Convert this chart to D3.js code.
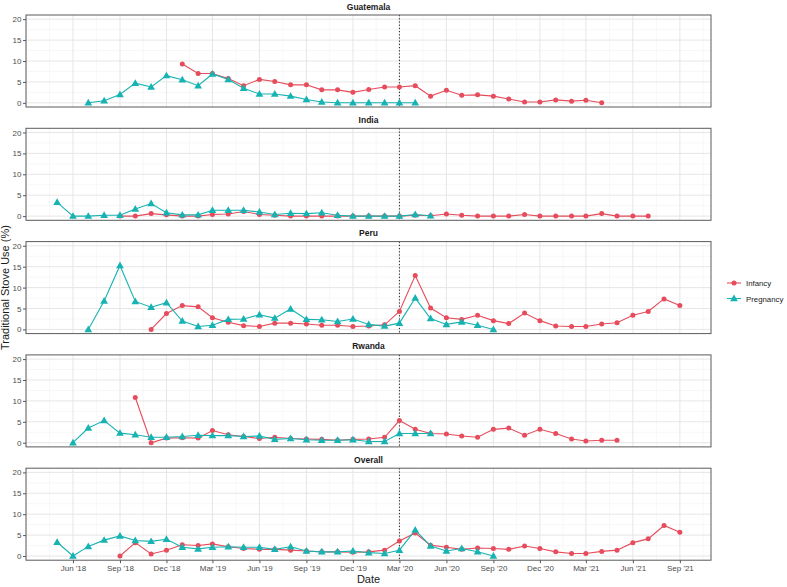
<!DOCTYPE html>
<html>
<head>
<meta charset="utf-8">
<script src="https://cdn.jsdelivr.net/npm/d3@7"></script>
<style>
  html, body { margin: 0; padding: 0; background: #fff; }
  svg { display: block; font-family: "Liberation Sans", Arial, sans-serif; }
</style>
</head>
<body>
<svg id="chart" width="787" height="587"></svg>
<script>
// ---------- DATA ----------
const countries = ["Guatemala", "India", "Peru", "Rwanda", "Overall"];
const groups = ["Infancy", "Pregnancy"];
const xTickLabels = ["Jun '18", "Sep '18", "Dec '18", "Mar '19", "Jun '19", "Sep '19", "Dec '19",
                     "Mar '20", "Jun '20", "Sep '20", "Dec '20", "Mar '21", "Jun '21", "Sep '21"];
const yTicks = [0, 5, 10, 15, 20];
const cutoffMonth = "2020-03";

// monthly series: first month + monthly values (%)
const guatemalaInfancyStart = "2019-01";
const guatemalaInfancy = [9.3, 7.0, 7.0, 5.8, 4.1, 5.6, 5.1, 4.3, 4.3, 3.1, 3.1, 2.5,
                          3.2, 3.8, 3.8, 4.1, 1.6, 3.0, 1.8, 1.9, 1.6, 0.9, 0.2, 0.2,
                          0.7, 0.4, 0.6, 0.0];
const guatemalaPregnancyStart = "2018-07";
const guatemalaPregnancy = [0.0, 0.5, 2.0, 4.7, 3.8, 6.5,
                            5.5, 4.1, 6.9, 5.6, 3.5, 2.1, 2.1, 1.6, 0.8, 0.2, 0.0, 0.0,
                            0.0, 0.0, 0.0, 0.0];

const indiaInfancyStart = "2018-09";
const indiaInfancy = [0.0, 0.0, 0.6, 0.3,
                      0.0, 0.0, 0.4, 0.5, 1.1, 0.4, 0.2, 0.0, 0.0, 0.0, 0.0, 0.0,
                      0.0, 0.0, 0.0, 0.2, 0.1, 0.5, 0.2, 0.0, 0.0, 0.0, 0.4, 0.0,
                      0.0, 0.0, 0.0, 0.6, 0.0, 0.0, 0.0];
const indiaPregnancyStart = "2018-05";
const indiaPregnancy = [3.3, 0.0, 0.0, 0.2, 0.2, 1.7, 3.0, 0.8,
                        0.3, 0.3, 1.4, 1.4, 1.4, 1.0, 0.4, 0.7, 0.6, 0.8, 0.2, 0.0,
                        0.0, 0.0, 0.0, 0.4, 0.1];

const peruInfancyStart = "2018-11";
const peruInfancy = [0.0, 3.8,
                     5.7, 5.4, 2.8, 1.7, 0.9, 0.7, 1.5, 1.5, 1.3, 1.0, 1.0, 0.7,
                     0.8, 1.1, 4.3, 12.9, 5.1, 2.8, 2.4, 3.4, 2.1, 1.4, 3.9, 2.1,
                     0.8, 0.7, 0.7, 1.3, 1.6, 3.4, 4.3, 7.3, 5.7];
const peruPregnancyStart = "2018-07";
const peruPregnancy = [0.0, 6.8, 15.3, 6.7, 5.3, 6.4,
                       2.0, 0.7, 1.0, 2.4, 2.5, 3.5, 2.7, 4.9, 2.4, 2.3, 1.9, 2.5,
                       1.2, 0.8, 1.5, 7.5, 2.6, 1.2, 1.8, 1.0, 0.0];

const rwandaInfancyStart = "2018-10";
const rwandaInfancy = [10.8, 0.0, 1.1,
                       1.2, 1.1, 2.9, 1.9, 1.5, 1.0, 1.3, 1.0, 0.9, 0.8, 0.6, 0.8,
                       0.9, 1.3, 5.3, 3.2, 2.2, 2.1, 1.6, 1.3, 3.2, 3.5, 1.8, 3.2,
                       2.2, 0.9, 0.4, 0.6, 0.6];
const rwandaPregnancyStart = "2018-06";
const rwandaPregnancy = [0.0, 3.5, 5.3, 2.3, 1.9, 1.3, 1.3,
                         1.5, 1.8, 1.7, 1.7, 1.5, 1.6, 0.8, 1.0, 0.7, 0.6, 0.6, 0.7,
                         0.3, 0.3, 2.2, 2.2, 2.2];

const overallInfancyStart = "2018-09";
const overallInfancy = [0.0, 3.2, 0.5, 1.4,
                        2.7, 2.5, 2.9, 2.2, 1.8, 1.6, 1.6, 1.4, 1.2, 1.0, 1.0, 0.9,
                        1.0, 1.4, 3.6, 5.5, 2.6, 2.1, 1.6, 1.9, 1.8, 1.6, 2.4, 1.8,
                        1.0, 0.6, 0.6, 1.1, 1.4, 3.2, 4.1, 7.3, 5.7];
const overallPregnancyStart = "2018-05";
const overallPregnancy = [3.3, 0.0, 2.3, 3.8, 4.8, 3.7, 3.5, 4.0,
                          2.1, 1.7, 2.1, 2.2, 2.1, 2.1, 1.6, 2.2, 1.2, 1.0, 1.0, 1.2,
                          0.8, 0.6, 1.4, 6.2, 2.4, 1.2, 1.8, 1.0, 0.0];

const seriesTable = {
  Guatemala: { Infancy: [guatemalaInfancyStart, guatemalaInfancy], Pregnancy: [guatemalaPregnancyStart, guatemalaPregnancy] },
  India:     { Infancy: [indiaInfancyStart, indiaInfancy],         Pregnancy: [indiaPregnancyStart, indiaPregnancy] },
  Peru:      { Infancy: [peruInfancyStart, peruInfancy],           Pregnancy: [peruPregnancyStart, peruPregnancy] },
  Rwanda:    { Infancy: [rwandaInfancyStart, rwandaInfancy],       Pregnancy: [rwandaPregnancyStart, rwandaPregnancy] },
  Overall:   { Infancy: [overallInfancyStart, overallInfancy],     Pregnancy: [overallPregnancyStart, overallPregnancy] }
};

// ---------- HELPERS ----------
const parseMonth = d3.timeParse("%Y-%m");
function toPoints(start, vals) {
  const s = parseMonth(start);
  return vals.map((v, i) => ({ date: d3.timeMonth.offset(s, i), value: v }));
}

// ---------- LAYOUT ----------
const svg = d3.select("#chart");
const plotLeft = 26, plotRight = 711;
const panelTop0 = 15, panelH = 92, panelStep = 113.3;
const colors = { Infancy: "#e64c5b", Pregnancy: "#17b3b3" };

const allDates = [];
countries.forEach(c => groups.forEach(g => {
  toPoints(...seriesTable[c][g]).forEach(p => allDates.push(p.date));
}));
const dMin = d3.min(allDates), dMax = d3.max(allDates);
const span = dMax - dMin;
const x = d3.scaleTime()
  .domain([new Date(+dMin - span * 0.05), new Date(+dMax + span * 0.05)])
  .range([plotLeft, plotRight]);

// quarterly breaks (major) and midpoints (minor)
const majorDates = d3.timeMonth.range(new Date(2018, 2, 1), new Date(2022, 0, 1), 3);
const minorDates = [];
for (let i = 0; i < majorDates.length - 1; i++) {
  minorDates.push(new Date((+majorDates[i] + +majorDates[i + 1]) / 2));
}
const labelDates = majorDates.filter(d => x(d) > plotLeft + 2 && x(d) < plotRight - 2);

const yMinor = [-2.5, 2.5, 7.5, 12.5, 17.5, 22.5];
const lineGen = (y) => d3.line().x(d => x(d.date)).y(d => y(d.value));
const triangle = d3.symbol().type(d3.symbolTriangle).size(26);

countries.forEach((country, i) => {
  const top = panelTop0 + i * panelStep;
  const y = d3.scaleLinear().domain([-1, 21]).range([top + panelH, top]);
  const g = svg.append("g");

  const clipId = "clip" + i;
  svg.append("clipPath").attr("id", clipId)
    .append("rect").attr("x", plotLeft).attr("y", top).attr("width", plotRight - plotLeft).attr("height", panelH);

  const grid = g.append("g").attr("clip-path", `url(#${clipId})`);
  // minor gridlines
  grid.selectAll(".xmin").data(minorDates).join("line")
    .attr("x1", d => x(d)).attr("x2", d => x(d)).attr("y1", top).attr("y2", top + panelH)
    .attr("stroke", "#f2f2f2").attr("stroke-width", 0.6);
  grid.selectAll(".ymin").data(yMinor).join("line")
    .attr("x1", plotLeft).attr("x2", plotRight).attr("y1", d => y(d)).attr("y2", d => y(d))
    .attr("stroke", "#f2f2f2").attr("stroke-width", 0.6);
  // major gridlines
  grid.selectAll(".xmaj").data(majorDates).join("line")
    .attr("x1", d => x(d)).attr("x2", d => x(d)).attr("y1", top).attr("y2", top + panelH)
    .attr("stroke", "#e3e3e3").attr("stroke-width", 0.9);
  grid.selectAll(".ymaj").data(yTicks).join("line")
    .attr("x1", plotLeft).attr("x2", plotRight).attr("y1", d => y(d)).attr("y2", d => y(d))
    .attr("stroke", "#e3e3e3").attr("stroke-width", 0.9);

  // cutoff dotted line
  const cut = parseMonth(cutoffMonth);
  g.append("line")
    .attr("x1", x(cut)).attr("x2", x(cut)).attr("y1", top).attr("y2", top + panelH)
    .attr("stroke", "#222").attr("stroke-width", 1).attr("stroke-dasharray", "1.2,2");

  const data = groups.map(gr => ({ group: gr, pts: toPoints(...seriesTable[country][gr]) }));

  // lines
  data.forEach(s => {
    g.append("path").datum(s.pts)
      .attr("d", lineGen(y))
      .attr("fill", "none").attr("stroke", colors[s.group]).attr("stroke-width", 1.1);
  });
  // points
  data.forEach(s => {
    if (s.group === "Infancy") {
      g.selectAll(null).data(s.pts).join("circle")
        .attr("cx", d => x(d.date)).attr("cy", d => y(d.value)).attr("r", 2.5)
        .attr("fill", colors[s.group]);
    } else {
      g.selectAll(null).data(s.pts).join("path")
        .attr("d", triangle)
        .attr("transform", d => `translate(${x(d.date)},${y(d.value) + 0.5})`)
        .attr("fill", colors[s.group]);
    }
  });

  // panel border
  g.append("rect").attr("x", plotLeft).attr("y", top).attr("width", plotRight - plotLeft).attr("height", panelH)
    .attr("fill", "none").attr("stroke", "#5a5a5a").attr("stroke-width", 1);

  // y axis
  const yAxis = d3.axisLeft(y).tickValues(yTicks).tickSize(3).tickPadding(1.5);
  const ya = g.append("g").attr("transform", `translate(${plotLeft},0)`).call(yAxis);
  ya.select(".domain").remove();
  ya.selectAll(".tick line").attr("stroke", "#555");
  ya.selectAll(".tick text").attr("fill", "#4d4d4d").style("font-size", "8px")
    .style("font-family", "Liberation Sans, Arial, sans-serif");

  // strip title
  g.append("text").attr("x", (plotLeft + plotRight) / 2).attr("y", top - 5.5)
    .attr("text-anchor", "middle").style("font-size", "8.5px").style("font-weight", "bold")
    .attr("fill", "#1a1a1a").text(country);

  // x axis on bottom panel
  if (i === countries.length - 1) {
    const xAxis = d3.axisBottom(x).tickValues(labelDates)
      .tickFormat((d, k) => xTickLabels[k]).tickSize(3).tickPadding(2);
    const xa = g.append("g").attr("transform", `translate(0,${top + panelH})`).call(xAxis);
    xa.select(".domain").remove();
    xa.selectAll(".tick line").attr("stroke", "#555");
    xa.selectAll(".tick text").attr("fill", "#4d4d4d").style("font-size", "8px")
      .style("font-family", "Liberation Sans, Arial, sans-serif");
  }
});

// axis titles
const lastBottom = panelTop0 + 4 * panelStep + panelH;
svg.append("text").attr("x", (plotLeft + plotRight) / 2).attr("y", 583)
  .attr("text-anchor", "middle").style("font-size", "11px").attr("fill", "#1a1a1a").text("Date");
svg.append("text")
  .attr("transform", `translate(9,${(panelTop0 + lastBottom) / 2}) rotate(-90)`)
  .attr("text-anchor", "middle").style("font-size", "11px").attr("fill", "#1a1a1a")
  .text("Traditional Stove Use (%)");

// legend
const legend = svg.append("g");
groups.forEach((gr, k) => {
  const ly = 283 + k * 15.5;
  legend.append("line").attr("x1", 727).attr("x2", 741).attr("y1", ly).attr("y2", ly)
    .attr("stroke", colors[gr]).attr("stroke-width", 1.1);
  if (gr === "Infancy") {
    legend.append("circle").attr("cx", 734).attr("cy", ly).attr("r", 2.5).attr("fill", colors[gr]);
  } else {
    legend.append("path").attr("d", triangle).attr("transform", `translate(734,${ly + 0.5})`).attr("fill", colors[gr]);
  }
  legend.append("text").attr("x", 746).attr("y", ly + 3).style("font-size", "7.8px")
    .attr("fill", "#1a1a1a").text(gr);
});
</script>
</body>
</html>
